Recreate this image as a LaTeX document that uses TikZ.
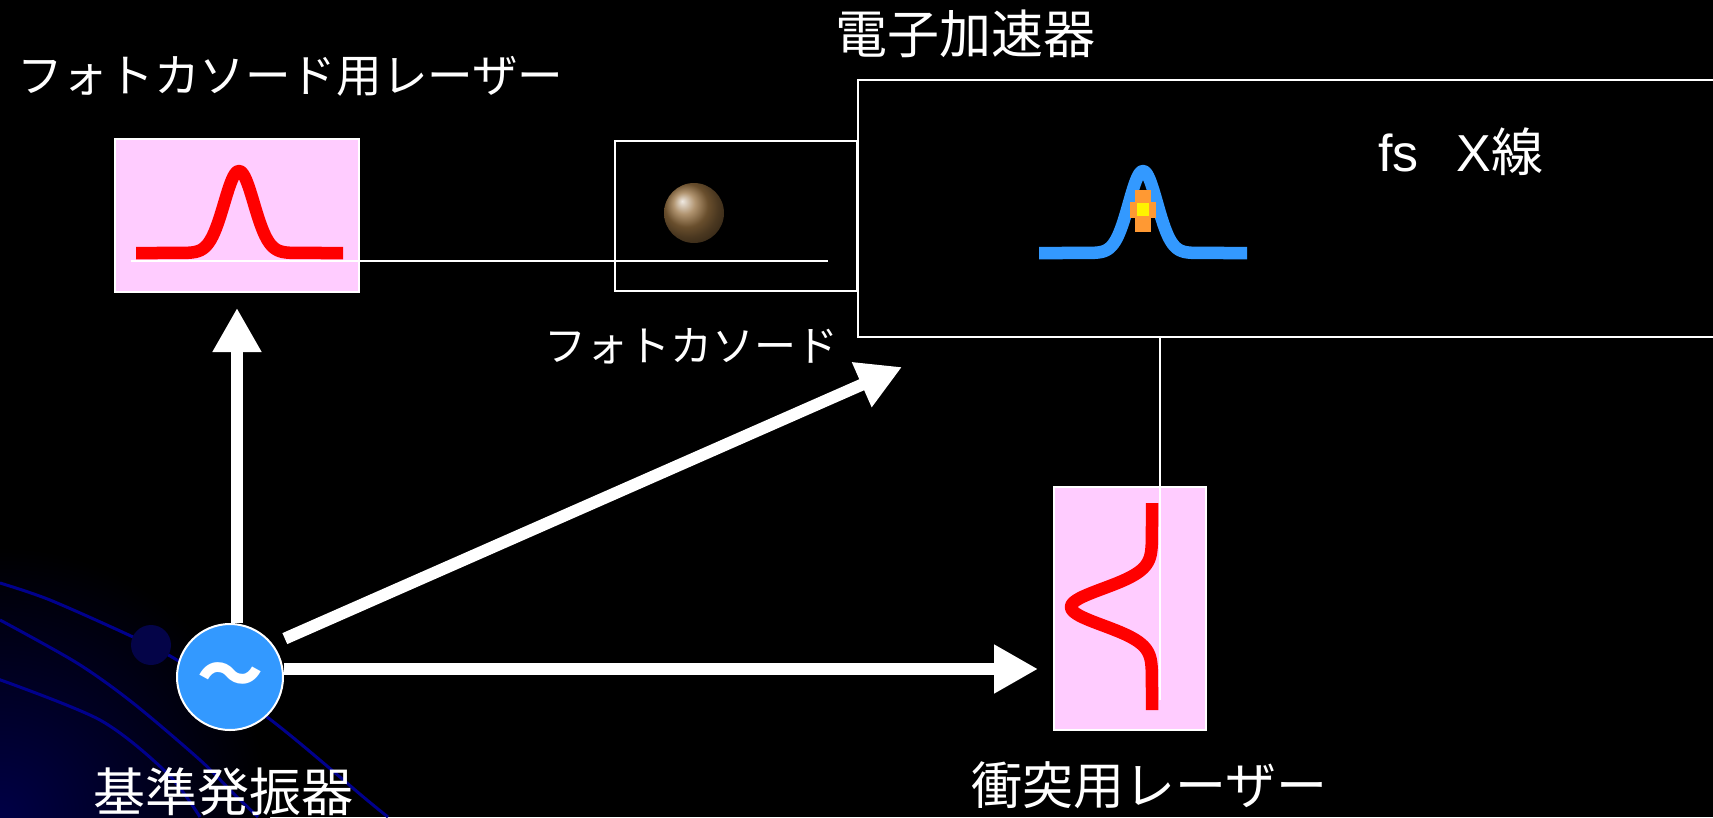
\documentclass[tikz,border=0pt]{standalone}
\usepackage{fontspec}
\newfontfamily\jpfont{Noto Sans CJK JP}
\newfontfamily\lsfont{Liberation Sans}
\usetikzlibrary{arrows.meta,calc}
\definecolor{pulsered}{RGB}{255,0,0}
\definecolor{pulseblue}{RGB}{51,153,255}
\definecolor{boxpink}{RGB}{255,204,255}
\definecolor{oscblue}{RGB}{51,153,255}
\definecolor{orbitblue}{RGB}{0,0,140}
\definecolor{glowblue}{RGB}{0,0,70}
\definecolor{moonblue}{RGB}{4,4,72}
\definecolor{sparkorange}{RGB}{255,153,51}
\definecolor{cathodebrown}{RGB}{150,112,64}
\begin{document}
\begin{tikzpicture}[x=1pt,y=-1pt,
  txt/.style={text=white,inner sep=0pt,anchor=west,font=\jpfont\fontsize{45.6}{50}\selectfont},
  bigtxt/.style={txt,font=\jpfont\fontsize{52}{56}\selectfont},
  laserbox/.style={draw=white,line width=2pt,fill=boxpink,inner sep=0pt},
  boxframe/.style={draw=white,line width=2pt,inner sep=0pt},
  beam/.style={white,line width=2pt},
  bigarrow/.style={white,line width=12pt,-{Triangle[length=44pt,width=46pt]}},
  pulse/.style={line width=12.5pt,line join=round,line cap=butt},
  orbit/.style={orbitblue,line width=3pt},
]
% page and background
\useasboundingbox (0,0) rectangle (1713,817);
\clip (0,0) rectangle (1713,817);
\fill[black] (0,0) rectangle (1713,817);
\fill[inner color=glowblue,outer color=black] (0,817) circle (270);

% orbit decoration in the lower left corner
\draw[orbit] plot[smooth] coordinates {(0,583) (50,600) (133,637) (177,660) (267,717) (367,800) (388,817)};
\draw[orbit] plot[smooth] coordinates {(0,620) (77,663) (133,703) (200,760) (233,793) (258,817)};
\draw[orbit] plot[smooth] coordinates {(-5,678) (100,720) (167,773) (200,817)};
\fill[moonblue] (151,645) circle (20);

% boxes
\node[laserbox,minimum width=244pt,minimum height=153pt] (pclaser) at (237,215.5) {};
\node[boxframe,minimum width=242pt,minimum height=150pt] (pcbox) at (736,216) {};
\node[boxframe,minimum width=880pt,minimum height=257pt,anchor=north west] (accel) at (857,79) {};
\node[laserbox,minimum width=152pt,minimum height=243pt] (collaser) at (1130,608.5) {};

% photocathode
\node[circle,minimum size=60pt,inner sep=0pt,ball color=cathodebrown] (cathode) at (694,213) {};

% laser pulse for the photocathode
\draw[pulse,pulsered] (136,253) -- plot[domain=176:302,samples=80] (\x,{253-82*exp(-((\x-239)/21)^2)}) -- (343,253);
% electron bunch
\draw[pulse,pulseblue] (1039,253) -- plot[domain=1083:1203,samples=80] (\x,{253-82*exp(-((\x-1143)/20)^2)}) -- (1247,253);
\fill[sparkorange] (1135,190) rectangle (1151,232);
\fill[sparkorange] (1130,202) rectangle (1156,218);
\fill[yellow] (1137,203) rectangle (1149,216);
% collision laser pulse
\draw[pulse,pulsered] (1152,503) -- plot[domain=532:682,samples=80] ({1152-81*exp(-((\x-607)/26)^2)},\x) -- (1152,710);

% laser beam lines
\coordinate (beamA) at (131,261);
\coordinate (beamB) at (828,261);
\draw[beam] (beamA) -- (beamB);
\coordinate (collBeamEnd) at (1160,700);
\draw[beam] (collBeamEnd |- accel.south) -- (collBeamEnd);

% reference oscillator
\node[circle,fill=oscblue,draw=white,line width=2pt,minimum size=106pt,inner sep=0pt] (osc) at (230,677) {};
\node[text=white,inner sep=0pt,font=\jpfont\bfseries\fontsize{66}{66}\selectfont] (tilde) at (230,681) {～};

% timing distribution arrows
\coordinate (upTip) at (237,308);
\coordinate (diagTip) at (902,367);
\coordinate (rightTip) at (1038,669);
\draw[bigarrow] (osc.north -| upTip) -- (upTip);
\draw[bigarrow] ($(osc.center)!1.24!(osc.35)$) -- (diagTip);
\draw[bigarrow] (osc.east |- rightTip) -- (rightTip);

% labels
\node[txt] (pclaserlabel) at (17,76) {フォトカソード用レーザー};
\node[bigtxt] (accellabel) at (835,33.5) {電子加速器};
\node[bigtxt] (xraylabel) at (1378,152) {{\lsfont fs}\hspace{38pt}{\lsfont X}線};
\node[txt,font=\jpfont\fontsize{42}{46}\selectfont] (cathodelabel) at (544,346) {フォトカソード};
\node[bigtxt,font=\jpfont\fontsize{51}{56}\selectfont] (collaserlabel) at (971,785) {衝突用レーザー};
\node[bigtxt] (osclabel) at (93,792) {基準発振器};
\end{tikzpicture}
\end{document}
